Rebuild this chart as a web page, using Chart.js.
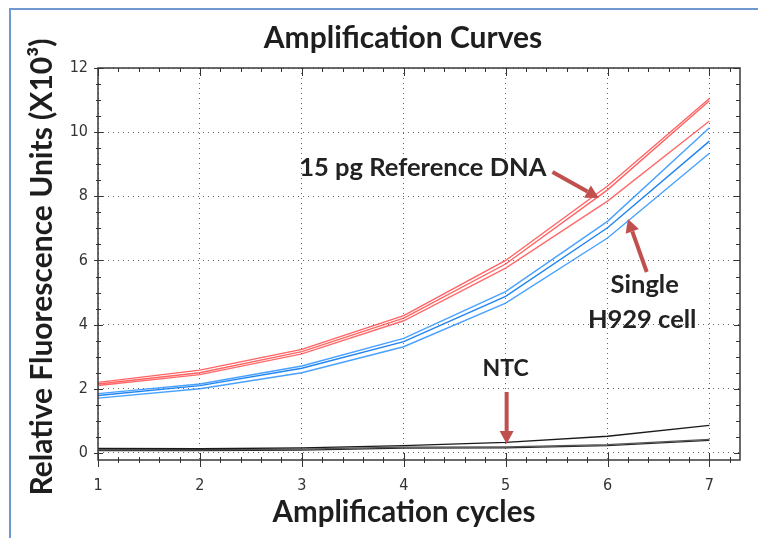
<!DOCTYPE html>
<html><head><meta charset="utf-8">
<script src="https://cdn.jsdelivr.net/npm/chart.js@4.4.1/dist/chart.umd.min.js"></script>
<style>html,body{margin:0;padding:0;background:#fff}#wrap{width:758px;height:538px;position:relative}</style>
</head><body><div id="wrap"><canvas id="c" width="758" height="538"></canvas></div>
<script>
// ---- data ----
const cycles = [1, 2, 3, 4, 5, 6, 7];
const refDNA1 = [2.20, 2.58, 3.23, 4.28, 6.00, 8.32, 11.05];
const refDNA2 = [2.15, 2.50, 3.16, 4.20, 5.89, 8.20, 10.98];
const refDNA3 = [2.10, 2.44, 3.09, 4.12, 5.76, 7.85, 10.35];
const cell1 = [1.85, 2.15, 2.71, 3.57, 5.03, 7.22, 10.14];
const cell2 = [1.79, 2.10, 2.64, 3.47, 4.88, 7.02, 9.72];
const cell3 = [1.71, 2.00, 2.50, 3.31, 4.67, 6.70, 9.34];
const ntc1 = [0.14, 0.13, 0.16, 0.23, 0.33, 0.52, 0.86];
const ntc2 = [0.10, 0.10, 0.12, 0.18, 0.19, 0.26, 0.42];
const ntc3 = [0.07, 0.07, 0.09, 0.15, 0.16, 0.23, 0.39];
const xTickValues = [1, 2, 3, 4, 5, 6, 7];
const yTickValues = [0, 2, 4, 6, 8, 10, 12];
const chartTitle = 'Amplification Curves';
const xTitle = 'Amplification cycles';
const yTitle = 'Relative Fluorescence Units (X10³)';
const labelRef = '15 pg Reference DNA';
const labelCell = ['Single', 'H929 cell'];
const labelNTC = 'NTC';

const pts = arr => cycles.map((c, i) => ({x: c, y: arr[i]}));
const ds = (label, arr, color, w) => ({label, data: pts(arr), borderColor: color, borderWidth: w, pointRadius: 0, tension: 0, fill: false});

const BOLD = '"Lato", "Open Sans", sans-serif';
const TICKFONT = '"Liberation Sans Narrow", "DejaVu Sans Condensed", "Liberation Sans", sans-serif';

const decor = {
  id: 'decor',
  beforeDraw(chart) {
    const ctx = chart.ctx;
    ctx.save();
    ctx.fillStyle = '#fff';
    ctx.fillRect(0, 0, chart.width, chart.height);
    ctx.strokeStyle = '#6f99d0';
    ctx.lineWidth = 2;
    ctx.beginPath();
    ctx.moveTo(10, 540); ctx.lineTo(10, 9); ctx.lineTo(760, 9);
    ctx.stroke();
    ctx.restore();
  },
  afterDatasetsDraw(chart) {
    const {ctx, chartArea: a, scales: {x, y}} = chart;
    ctx.save();
    // frame
    ctx.strokeStyle = '#3a3a3a';
    ctx.lineWidth = 1.5;
    ctx.strokeRect(a.left, a.top, a.right - a.left, a.bottom - a.top);
    ctx.lineWidth = 1;
    ctx.strokeStyle = '#333';
    ctx.beginPath();
    for (let i = 0; ; i++) {
      const v = 1 + i * 0.2;
      if (v > x.max + 1e-6) break;
      const major = Math.abs(v - Math.round(v)) < 1e-6;
      const px = Math.round(x.getPixelForValue(v)) + 0.5;
      ctx.moveTo(px, a.bottom - (major ? 7 : 3)); ctx.lineTo(px, a.bottom + (major ? 7 : 3));
      ctx.moveTo(px, a.top); ctx.lineTo(px, a.top + (major ? 8 : 4));
    }
    for (let i = 0; ; i++) {
      const v = i * 0.5;
      if (v > y.max + 1e-6) break;
      const major = Math.abs(v / 2 - Math.round(v / 2)) < 1e-6;
      const py = Math.round(y.getPixelForValue(v)) + 0.5;
      ctx.moveTo(a.left - (major ? 4 : 2), py); ctx.lineTo(a.left + (major ? 5 : 3), py);
      ctx.moveTo(a.right, py); ctx.lineTo(a.right - (major ? 6 : 4), py);
    }
    ctx.stroke();

    // annotations
    const X = v => x.getPixelForValue(v), Y = v => y.getPixelForValue(v);
    const arrow = (x1, y1, x2, y2) => {
      const ax1 = X(x1), ay1 = Y(y1), ax2 = X(x2), ay2 = Y(y2);
      const ang = Math.atan2(ay2 - ay1, ax2 - ax1);
      const hl = 13, hw = 7;
      const bx = ax2 - hl * Math.cos(ang), by = ay2 - hl * Math.sin(ang);
      ctx.strokeStyle = '#c0504d'; ctx.fillStyle = '#c0504d';
      ctx.lineWidth = 4; ctx.lineCap = 'butt';
      ctx.beginPath(); ctx.moveTo(ax1, ay1); ctx.lineTo(bx, by); ctx.stroke();
      ctx.beginPath();
      ctx.moveTo(ax2, ay2);
      ctx.lineTo(bx + hw * Math.sin(ang), by - hw * Math.cos(ang));
      ctx.lineTo(bx - hw * Math.sin(ang), by + hw * Math.cos(ang));
      ctx.closePath(); ctx.fill();
    };
    arrow(5.46, 8.76, 5.914, 7.95);
    arrow(6.385, 5.64, 6.20, 7.29);
    arrow(5.01, 1.90, 5.01, 0.28);

    ctx.fillStyle = '#222';
    ctx.font = 'bold 25.5px ' + BOLD;
    ctx.textBaseline = 'alphabetic';
    ctx.textAlign = 'right';
    ctx.fillText(labelRef, X(5.40), Y(8.62));
    ctx.textAlign = 'center';
    ctx.fillText(labelCell[0], X(6.365), Y(5.00));
    ctx.fillText(labelCell[1], X(6.34), Y(3.91));
    ctx.font = 'bold 23px ' + BOLD;
    ctx.fillText(labelNTC, X(5.0), Y(2.40));

    // titles
    ctx.fillStyle = '#1e1e1e';
    ctx.font = 'bold 30px ' + BOLD;
    ctx.fillText(chartTitle, 403, 48);
    ctx.font = 'bold 29.5px ' + BOLD;
    ctx.fillText(xTitle, 404, 522);
    ctx.save();
    ctx.translate(52, 267);
    ctx.rotate(-Math.PI / 2);
    ctx.font = 'bold 30px ' + BOLD;
    ctx.fillText(yTitle, 0, 0);
    ctx.restore();
    ctx.restore();
  }
};

new Chart(document.getElementById('c'), {
  type: 'line',
  data: {
    datasets: [
      ds('NTC 1', ntc1, '#1a1a1a', 1.3),
      ds('NTC 2', ntc2, '#555555', 1.3),
      ds('NTC 3', ntc3, '#2a2a2a', 1.3),
      ds('Single H929 cell 1', cell1, 'rgba(40,145,255,0.85)', 1.4),
      ds('Single H929 cell 2', cell2, 'rgba(20,125,240,0.95)', 1.4),
      ds('Single H929 cell 3', cell3, 'rgba(40,145,255,0.85)', 1.4),
      ds('15 pg Reference DNA 1', refDNA1, 'rgba(255,60,60,0.8)', 1.4),
      ds('15 pg Reference DNA 2', refDNA2, 'rgba(255,60,60,0.8)', 1.4),
      ds('15 pg Reference DNA 3', refDNA3, 'rgba(255,70,70,0.8)', 1.4)
    ]
  },
  options: {
    responsive: false,
    animation: false,
    devicePixelRatio: 1,
    layout: {padding: {top: 68, right: 18, left: 0, bottom: 0}},
    plugins: {legend: {display: false}, tooltip: {enabled: false}, title: {display: false}},
    scales: {
      x: {
        type: 'linear', min: 1, max: 7.3,
        afterBuildTicks: s => { s.ticks = xTickValues.map(v => ({value: v})); },
        afterFit: s => { s.height = 78; },
        grid: {color: '#666', lineWidth: 1, drawTicks: false},
        border: {display: false, dash: [1, 4]},
        ticks: {padding: 16, color: '#333', font: {family: TICKFONT, size: 16}, maxRotation: 0, autoSkip: false}
      },
      y: {
        type: 'linear', min: -0.22, max: 12,
        afterBuildTicks: s => { s.ticks = yTickValues.map(v => ({value: v})); },
        afterFit: s => { s.width = 98; },
        grid: {color: '#666', lineWidth: 1, drawTicks: false},
        border: {display: false, dash: [1, 4]},
        ticks: {padding: 10, color: '#333', font: {family: TICKFONT, size: 16}}
      }
    }
  },
  plugins: [decor]
});
</script>
</body></html>
